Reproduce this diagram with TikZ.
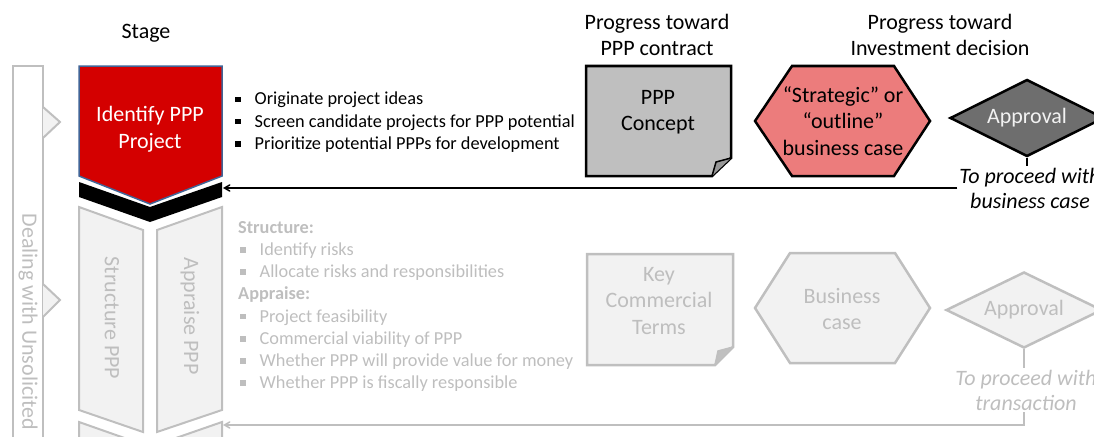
\documentclass[tikz,border=0pt]{standalone}
\usepackage{fontspec}
\setmainfont{Carlito}
\usetikzlibrary{arrows,shapes.geometric,positioning}

\definecolor{stagered}{RGB}{212,0,0}
\definecolor{stageblue}{RGB}{65,100,150}
\definecolor{notegray}{RGB}{191,191,191}
\definecolor{foldgray}{RGB}{150,150,150}
\definecolor{casered}{RGB}{236,124,124}
\definecolor{approvegray}{RGB}{110,110,110}
\definecolor{fadefill}{RGB}{242,242,242}
\definecolor{fadeline}{RGB}{191,191,191}
\definecolor{fadetext}{RGB}{190,190,190}

\newcommand{\sqbullet}{\rule[0.3ex]{0.3em}{0.3em}}

\begin{document}
\begin{tikzpicture}[x=1pt, y=-1pt, >=angle 60,
  bigtext/.style={font=\fontsize{22}{26.5}\selectfont, align=center},
  listtext/.style={font=\fontsize{18.3}{22.2}\selectfont, align=left, anchor=north west, inner sep=0pt},
  darkbox/.style={draw=black, line width=2.5pt, line join=miter},
  fadebox/.style={draw=fadeline, fill=fadefill, line width=2pt},
  fadeword/.style={text=fadetext}]
\clip (0,0) rectangle (1094,436);

% left bar
\draw[fadeline, line width=2pt] (13,66) rectangle (43,450);
\draw[fadebox] (43,107) -- (60,122) -- (43,138);
\draw[fadebox] (43,284) -- (60,300) -- (43,317);
\node (unsolicited) [bigtext, fadeword, rotate=-90, anchor=west] at (28,210) {Dealing with Unsolicited};

% stage column
\node (stage) [bigtext] at (146,33) {Stage};
\fill (79,182) -- (150,207) -- (222,182) -- (222,197) -- (150,222) -- (79,197) -- cycle;
\draw[fill=stagered, draw=stageblue, line width=1.5pt] (79,66) -- (222,66) -- (222,176) -- (150,204) -- (79,176) -- cycle;
\node (identify) [bigtext, text=white] at (150,129) {Identify PPP\\Project};
\draw[fadebox] (79,207) -- (143,230) -- (143,432) -- (79,410) -- cycle;
\draw[fadebox] (157,230) -- (222,207) -- (222,410) -- (157,432) -- cycle;
\draw[fadebox] (79,422) -- (150,447) -- (222,422) -- (222,460) -- (79,460) -- cycle;
\node (structure) [bigtext, fadeword, rotate=-90] at (112,318) {Structure PPP};
\node (appraise) [bigtext, fadeword, rotate=-90] at (190,316) {Appraise PPP};
\coordinate (chevA) at (223,188);
\coordinate (chevB) at (223,425);

% activities
\node (tasksA) [listtext] at (235,92) {\sqbullet\hspace{14pt}Originate project ideas\\
  \sqbullet\hspace{14pt}Screen candidate projects for PPP potential\\
  \sqbullet\hspace{14pt}Prioritize potential PPPs for development};
\node (tasksB) [listtext, fadeword] at (238,221) {\textbf{Structure:}\\
  \hspace{2pt}\sqbullet\hspace{14pt}Identify risks\\
  \hspace{2pt}\sqbullet\hspace{14pt}Allocate risks and responsibilities\\
  \textbf{Appraise:}\\
  \hspace{2pt}\sqbullet\hspace{14pt}Project feasibility\\
  \hspace{2pt}\sqbullet\hspace{14pt}Commercial viability of PPP\\
  \hspace{2pt}\sqbullet\hspace{14pt}Whether PPP will provide value for money\\
  \hspace{2pt}\sqbullet\hspace{14pt}Whether PPP is fiscally responsible};

% headers
\node (contract) [bigtext] at (657,35) {Progress toward\\PPP contract};
\node (decision) [bigtext] at (940,35) {Progress toward\\Investment decision};

% first row
\draw[darkbox, fill=notegray] (586,66) -- (731,66) -- (731,158) -- (712,176) -- (586,176) -- cycle;
\draw[black, line width=1.5pt, fill=foldgray] (731,158) -- (716,162) -- (712,176);
\node (concept) [bigtext] at (658,112) {PPP\\Concept};
\draw[darkbox, fill=casered] (755,121) -- (792,66) -- (894,66) -- (930,121) -- (894,176) -- (792,176) -- cycle;
\node (outline) [bigtext] at (843,121) {“Strategic” or\\“outline”\\business case};
\node (approvalA) [diamond, aspect=2, draw=black, line width=2.5pt, fill=approvegray, minimum width=154pt, minimum height=77pt, inner sep=0pt, bigtext, text={rgb,255:red,242;green,242;blue,242}] at (1027,118) {Approval};
\node (proceedA) [bigtext, font=\fontsize{22}{25}\selectfont\itshape, inner sep=2pt] at (1030,188) {To proceed with\\business case};
\draw[line width=1.5pt] (approvalA.south) -- (approvalA.south |- proceedA.north);
\draw[->, line width=1.5pt] (proceedA.west) -- (chevA);

% second row
\draw[fadebox, line width=2.5pt] (587,254) -- (733,254) -- (733,347) -- (715,365) -- (587,365) -- cycle;
\draw[fadeline, line width=1.5pt, fill=foldgray!60] (733,347) -- (718,351) -- (715,365);
\node (terms) [bigtext, fadeword] at (659,301) {Key\\Commercial\\Terms};
\draw[fadebox, line width=2.5pt] (755,308) -- (790,253) -- (895,253) -- (930,308) -- (895,363) -- (790,363) -- cycle;
\node (business) [bigtext, fadeword] at (842,309) {Business\\case};
\node (approvalB) [diamond, aspect=2, draw=fadeline, line width=2.5pt, fill=fadefill, minimum width=156pt, minimum height=76pt, inner sep=0pt, bigtext, fadeword] at (1024,310) {Approval};
\node (proceedB) [bigtext, fadeword, font=\fontsize{22}{25}\selectfont\itshape, inner sep=2pt] at (1026,390) {To proceed with\\transaction};
\draw[fadeline, line width=1.5pt] (approvalB.south) -- (approvalB.south |- proceedB.north);
\draw[->, fadeline, line width=1.5pt] (approvalB.south |- proceedB.south) |- (chevB);
\end{tikzpicture}
\end{document}
